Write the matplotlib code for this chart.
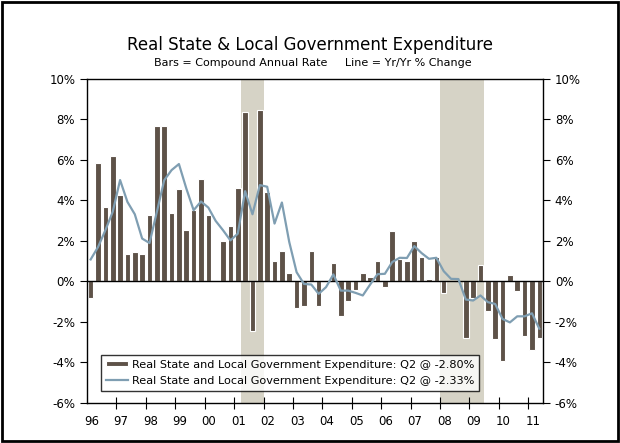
import matplotlib
matplotlib.use("Agg")
import matplotlib.pyplot as plt
import numpy as np
from matplotlib.patches import Rectangle

start_year = 1996
bars_saar = [-0.80, 5.83, 3.67, 6.18, 4.25, 1.34, 1.44, 1.34, 3.26, 7.67, 7.67, 3.36,
             4.56, 2.53, 3.54, 5.06, 3.27, 0.00, 2.02, 2.74, 4.64, 8.36, -2.43, 8.46,
             4.43, 1.00, 1.50, 0.43, -1.29, -1.19, 1.52, -1.19, 0.00, 0.93, -1.69, -0.98,
             -0.40, 0.43, 0.21, 1.00, -0.28, 2.51, 1.09, 1.00, 2.02, 1.20, 0.13, 1.20,
             -0.56, 0.00, 0.00, -2.79, -0.81, 0.83, -1.47, -2.86, -3.92, 0.33, -0.48, -2.69,
             -3.36, -2.80]
line_yoy = [1.09, 1.70, 2.53, 3.44, 5.01, 3.93, 3.32, 2.12, 1.90, 3.44, 5.00, 5.50,
            5.80, 4.60, 3.52, 3.95, 3.65, 2.99, 2.53, 2.03, 2.36, 4.46, 3.32, 4.76,
            4.68, 2.86, 3.90, 1.95, 0.46, -0.12, -0.15, -0.61, -0.28, 0.35, -0.45, -0.45,
            -0.56, -0.69, -0.15, 0.36, 0.38, 0.96, 1.17, 1.16, 1.75, 1.40, 1.12, 1.17,
            0.51, 0.13, 0.12, -0.89, -0.94, -0.69, -1.02, -1.11, -1.85, -2.02, -1.72, -1.72,
            -1.57, -2.33]
recessions = [(2001.25, 2002.0), (2008.0, 2009.5)]
year_labels = ["96", "97", "98", "99", "00", "01", "02", "03", "04", "05", "06",
               "07", "08", "09", "10", "11"]
y_ticks = [-6, -4, -2, 0, 2, 4, 6, 8, 10]

bar_color = "#5E5248"
line_color = "#7F9EB2"
shade_color = "#D6D3C6"

fig = plt.figure(figsize=(6.2, 4.43), dpi=100)
fig.patches.append(Rectangle((0.004, 0.004), 0.992, 0.992, transform=fig.transFigure,
                             fill=False, edgecolor="black", linewidth=2))
ax = fig.add_axes([0.1403, 0.0903, 0.7355, 0.7314])

n = len(bars_saar)
x = start_year + (np.arange(n) + 0.5) / 4.0

for a, b in recessions:
    ax.axvspan(a, b, color=shade_color, zorder=0, linewidth=0)

bars = ax.bar(x, bars_saar, width=0.19, color=bar_color, edgecolor="white", linewidth=0.8,
              zorder=2, label="Real State and Local Government Expenditure: Q2 @ -2.80%")
ax.axhline(0, color="black", linewidth=1.0, zorder=3)
line, = ax.plot(x, line_yoy, color=line_color, linewidth=1.6, zorder=4,
                label="Real State and Local Government Expenditure: Q2 @ -2.33%")

ax.set_xlim(start_year, start_year + n / 4.0)
ax.set_ylim(-6, 10)
ax.set_yticks(y_ticks)
ax.set_yticklabels([f"{v}%" for v in y_ticks])
ax.tick_params(axis="y", which="both", direction="out", length=5, labelsize=8.5,
               labelright=True, right=True, color="black")

years = np.arange(start_year, start_year + 16)
ax.set_xticks(years[1:])
ax.set_xticklabels([])
ax.set_xticks(years + 0.15, minor=True)
ax.set_xticklabels(year_labels, minor=True, fontsize=8.5)
ax.tick_params(axis="x", which="major", direction="inout", length=8)
ax.tick_params(axis="x", which="minor", length=0, pad=9)

for s in ax.spines.values():
    s.set_color("black")
    s.set_linewidth(1.0)

leg = ax.legend(handles=[bars, line], loc="lower left", bbox_to_anchor=(0.018, 0.02),
                fontsize=8.1, frameon=True, fancybox=False, edgecolor="black",
                handlelength=2.0, handleheight=0.4, borderpad=0.45, labelspacing=0.55,
                handletextpad=0.3)
leg.get_frame().set_linewidth(1.0)

fig.text(0.5, 0.898, "Real State & Local Government Expenditure", ha="center",
         va="center", fontsize=12)
fig.text(0.505, 0.857, "Bars = Compound Annual Rate     Line = Yr/Yr % Change",
         ha="center", va="center", fontsize=8)

fig.savefig("out.png", dpi=100)
